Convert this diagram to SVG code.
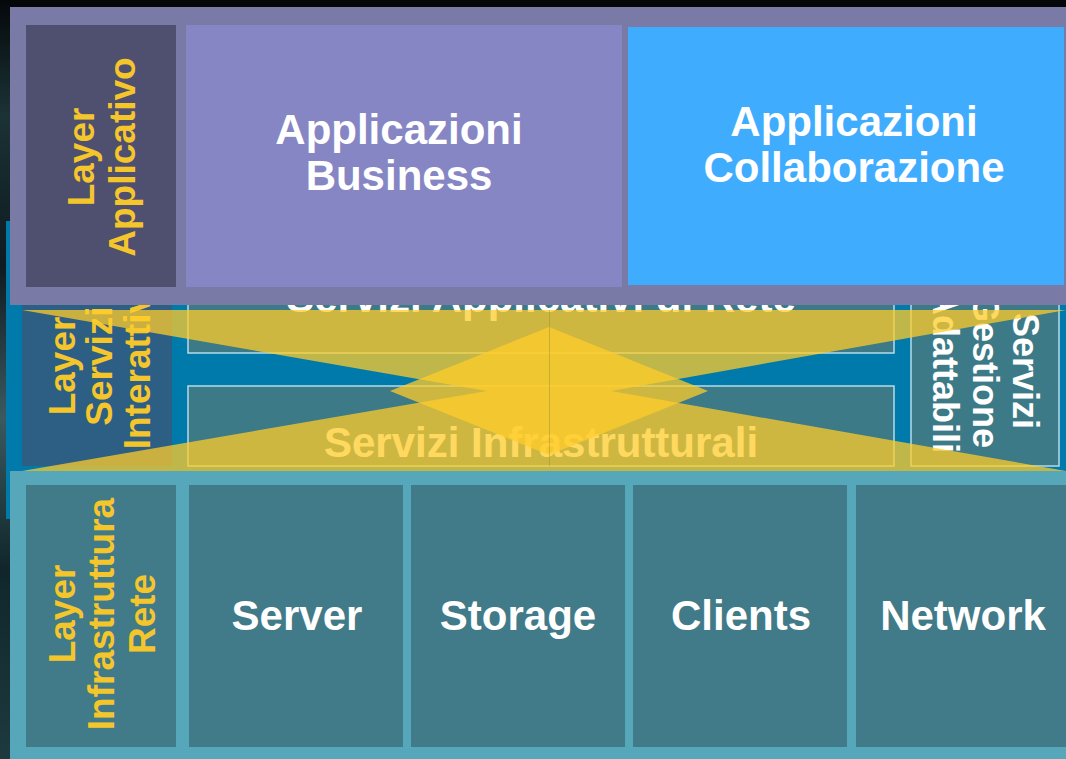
<svg xmlns="http://www.w3.org/2000/svg" width="1066" height="759" viewBox="0 0 1066 759">
  <defs>
    <linearGradient id="edge" x1="0" y1="0" x2="0" y2="1">
      <stop offset="0" stop-color="#05080a"/>
      <stop offset="0.15" stop-color="#1b3236"/>
      <stop offset="0.35" stop-color="#0e1b20"/>
      <stop offset="0.55" stop-color="#3a5a60"/>
      <stop offset="0.75" stop-color="#10262a"/>
      <stop offset="1" stop-color="#1d3a3e"/>
    </linearGradient>
    <style>
      .t { font-family: "Liberation Sans", Arial, Helvetica, sans-serif; font-weight: bold; text-anchor: middle; }
      .big { font-size: 42px; fill: #ffffff; }
      .lab { font-size: 37px; fill: #f5c62c; }
      .side { font-size: 36px; fill: #ffffff; }
      .svbox { fill: #3d7a87; stroke: #b4dcea; stroke-width: 1.5; }
      .ylw { fill: #ffcc2a; fill-opacity: 0.75; }
      .infra { fill: #417a88; }
    </style>
  </defs>

  <!-- background -->
  <rect x="0" y="0" width="1066" height="759" fill="#040607"/>
  <rect x="0" y="0" width="10" height="759" fill="url(#edge)"/>

  <!-- middle layer: Servizi Interattivi -->
  <g id="layer-servizi">
    <rect x="6" y="221" width="1060" height="298" fill="#0079ab"/>
    <g id="label-servizi-interattivi">
      <rect x="22" y="230" width="150" height="236" fill="#2d5e84"/>
      <text class="t lab" transform="translate(74.5,366) rotate(-90)">Layer</text>
      <text class="t lab" transform="translate(112,366) rotate(-90)">Servizi</text>
      <text class="t lab" transform="translate(150,366) rotate(-90)">Interattivi</text>
    </g>
    <g id="servizi-applicativi">
      <rect class="svbox" x="188" y="230" width="706" height="123"/>
      <text class="t big" x="541" y="312">Servizi Applicativi di Rete</text>
    </g>
    <g id="servizi-infrastrutturali">
      <rect class="svbox" x="188" y="386" width="706" height="80"/>
      <text class="t big" x="541" y="457">Servizi Infrastrutturali</text>
    </g>
    <g id="servizi-gestione">
      <rect class="svbox" x="911" y="230" width="148" height="236"/>
      <text class="t side" transform="translate(1013,371) rotate(90)">Servizi</text>
      <text class="t side" transform="translate(973,371) rotate(90)">Gestione</text>
      <text class="t side" transform="translate(933,371) rotate(90)">Adattabili</text>
    </g>
  </g>

  <!-- yellow overlay -->
  <g id="overlay">
    <path class="ylw" d="M22,310 L1066,310 L611,391 L1066,471 L22,471 L487,391 Z"/>
    <path class="ylw" d="M390,391 L549,327 L708,391 L549,455 Z"/>
    <line x1="549.5" y1="310" x2="549.5" y2="466" stroke="#9c8f3c" stroke-opacity="0.45" stroke-width="1"/>
  </g>

  <!-- top layer: Applicativo -->
  <g id="layer-applicativo">
    <rect x="10" y="7" width="1056" height="298" fill="#7a7aa7"/>
    <g id="label-applicativo">
      <rect x="26" y="25" width="150" height="262" fill="#4f4f70"/>
      <text class="t lab" transform="translate(94,157) rotate(-90)">Layer</text>
      <text class="t lab" transform="translate(135,157) rotate(-90)">Applicativo</text>
    </g>
    <g id="app-business">
      <rect x="186" y="25" width="436" height="262" fill="#8686c4"/>
      <text class="t big" x="399" y="144">Applicazioni</text>
      <text class="t big" x="399" y="190">Business</text>
    </g>
    <g id="app-collaborazione">
      <rect x="628" y="27" width="436" height="258" fill="#40acfe"/>
      <text class="t big" x="854" y="136">Applicazioni</text>
      <text class="t big" x="854" y="182">Collaborazione</text>
    </g>
  </g>

  <!-- bottom layer: Infrastruttura Rete -->
  <g id="layer-infrastruttura">
    <rect x="10" y="471" width="1056" height="288" fill="#56a7ba"/>
    <g id="label-infrastruttura">
      <rect class="infra" x="26" y="485" width="150" height="262"/>
      <text class="t lab" transform="translate(74.5,614) rotate(-90)">Layer</text>
      <text class="t lab" transform="translate(114,614) rotate(-90)">Infrastruttura</text>
      <text class="t lab" transform="translate(154.5,614) rotate(-90)">Rete</text>
    </g>
    <g id="server">
      <rect class="infra" x="189" y="485" width="214" height="262"/>
      <text class="t big" x="297" y="630">Server</text>
    </g>
    <g id="storage">
      <rect class="infra" x="411" y="485" width="214" height="262"/>
      <text class="t big" x="518" y="630">Storage</text>
    </g>
    <g id="clients">
      <rect class="infra" x="633" y="485" width="214" height="262"/>
      <text class="t big" x="741" y="630">Clients</text>
    </g>
    <g id="network">
      <rect class="infra" x="856" y="485" width="214" height="262"/>
      <text class="t big" x="963" y="630">Network</text>
    </g>
  </g>

  <g id="connectors"/>
</svg>
